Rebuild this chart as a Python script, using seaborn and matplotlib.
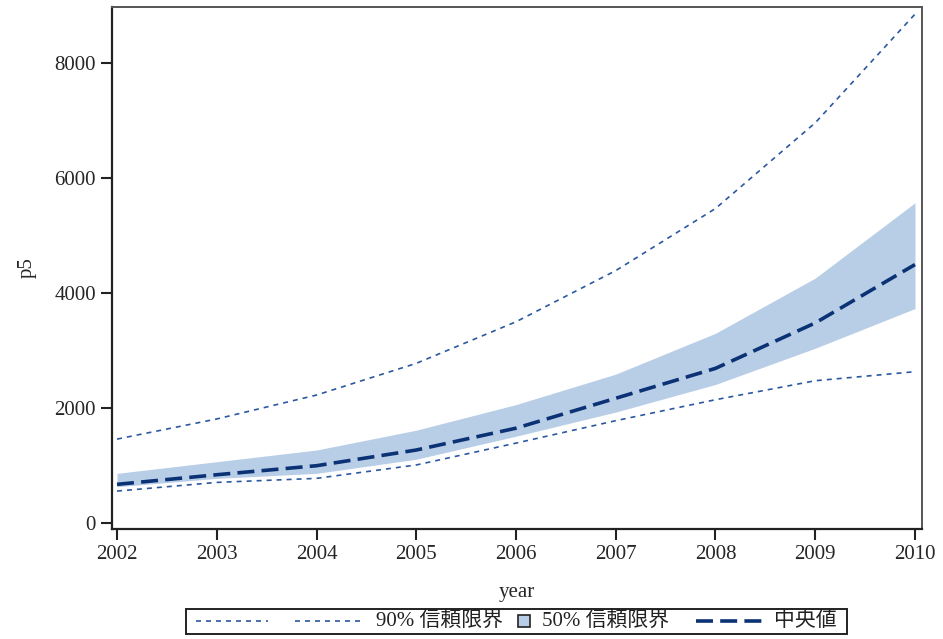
import matplotlib
matplotlib.use("Agg")
import matplotlib.pyplot as plt
import matplotlib.patches as mpatches
from matplotlib.lines import Line2D
from matplotlib.offsetbox import AnchoredOffsetbox, DrawingArea, HPacker, TextArea
import pandas as pd
import seaborn as sns

sns.set_style("ticks")
FONTS = ["Liberation Serif", "Noto Sans CJK JP", "DejaVu Sans"]
plt.rcParams["font.family"] = FONTS

# -----------------------------
# data
# -----------------------------
years = [2002, 2003, 2004, 2005, 2006, 2007, 2008, 2009, 2010]
upper90 = [1460, 1810, 2226, 2777, 3500, 4390, 5470, 6960, 8850]
upper50 = [864, 1067, 1270, 1615, 2060, 2590, 3300, 4260, 5570]
median = [673, 840, 997, 1270, 1650, 2170, 2690, 3480, 4495]
lower50 = [632, 777, 864, 1110, 1510, 1930, 2410, 3040, 3730]
lower90 = [556, 707, 777, 1010, 1390, 1780, 2145, 2475, 2632]

label90 = "90% 信頼限界"
label50 = "50% 信頼限界"
label_med = "中央値"

df = pd.DataFrame({
    "year": years,
    "upper90": upper90,
    "upper50": upper50,
    "p5": median,
    "lower50": lower50,
    "lower90": lower90,
})

dot_color = "#2b58a0"
med_color = "#0b3275"
band_color = "#b8cee7"
dot_dash = [3, 3]
med_dash = [4.7, 2.0]

fig = plt.figure(figsize=(9.43, 6.39), dpi=100)
ax = fig.add_axes([0.1188, 0.1721, 0.8589, 0.8170])

ax.fill_between(df["year"], df["lower50"], df["upper50"], color=band_color, linewidth=0)
sns.lineplot(data=df, x="year", y="upper90", ax=ax, color=dot_color, linewidth=1.2)
sns.lineplot(data=df, x="year", y="lower90", ax=ax, color=dot_color, linewidth=1.2)
sns.lineplot(data=df, x="year", y="p5", ax=ax, color=med_color, linewidth=2.6)
ax.lines[0].set_dashes(dot_dash)
ax.lines[1].set_dashes(dot_dash)
ax.lines[2].set_dashes(med_dash)

ax.set_xlim(2001.95, 2010.07)
ax.set_ylim(-104, 8975)
ax.set_xticks(years)
ax.set_yticks([0, 2000, 4000, 6000, 8000])
ax.set_xlabel("year", fontsize=15, labelpad=14)
ax.set_ylabel("p5", fontsize=15, labelpad=13)
ax.tick_params(axis="both", labelsize=15, length=8, width=1.5, color="#222222",
               direction="out")

for side in ["left", "bottom"]:
    ax.spines[side].set_linewidth(1.6)
    ax.spines[side].set_color("#222222")
for side in ["top", "right"]:
    ax.spines[side].set_visible(True)
    ax.spines[side].set_linewidth(1.4)
    ax.spines[side].set_color("#555555")

# -----------------------------
# legend row (SAS style), sizes in pixels -> points
# -----------------------------
px = 0.72
h = 25 * px


def line_box(width, color, lw, dashes):
    da = DrawingArea(width * px, h)
    ln = Line2D([0, width * px], [h / 2, h / 2], color=color, linewidth=lw)
    ln.set_dashes(dashes)
    da.add_artist(ln)
    return da


def gap(width):
    return DrawingArea(width * px, h)


sq = DrawingArea(12 * px, h)
sq.add_artist(mpatches.Rectangle((0, h / 2 - 6 * px), 12 * px, 12 * px,
                                 facecolor=band_color, edgecolor="#222222", linewidth=1.2))

txt = dict(fontsize=15, family=FONTS, color="#222222")
row = HPacker(children=[
    gap(10), line_box(72, dot_color, 1.2, dot_dash), gap(27),
    line_box(70, dot_color, 1.2, dot_dash), gap(11),
    TextArea(label90, textprops=txt), gap(15),
    sq, gap(12),
    TextArea(label50, textprops=txt), gap(27),
    line_box(66, med_color, 2.6, med_dash), gap(12),
    TextArea(label_med, textprops=txt), gap(10),
], sep=0, pad=0, align="center")

leg = AnchoredOffsetbox(loc="center", child=row, pad=0, borderpad=0, frameon=True,
                        bbox_to_anchor=(0.5477, 0.0274), bbox_transform=fig.transFigure)
leg.patch.set_edgecolor("#222222")
leg.patch.set_linewidth(1.4)
leg.patch.set_boxstyle("square", pad=0)
fig.add_artist(leg)

fig.savefig("out.png", dpi=100)
